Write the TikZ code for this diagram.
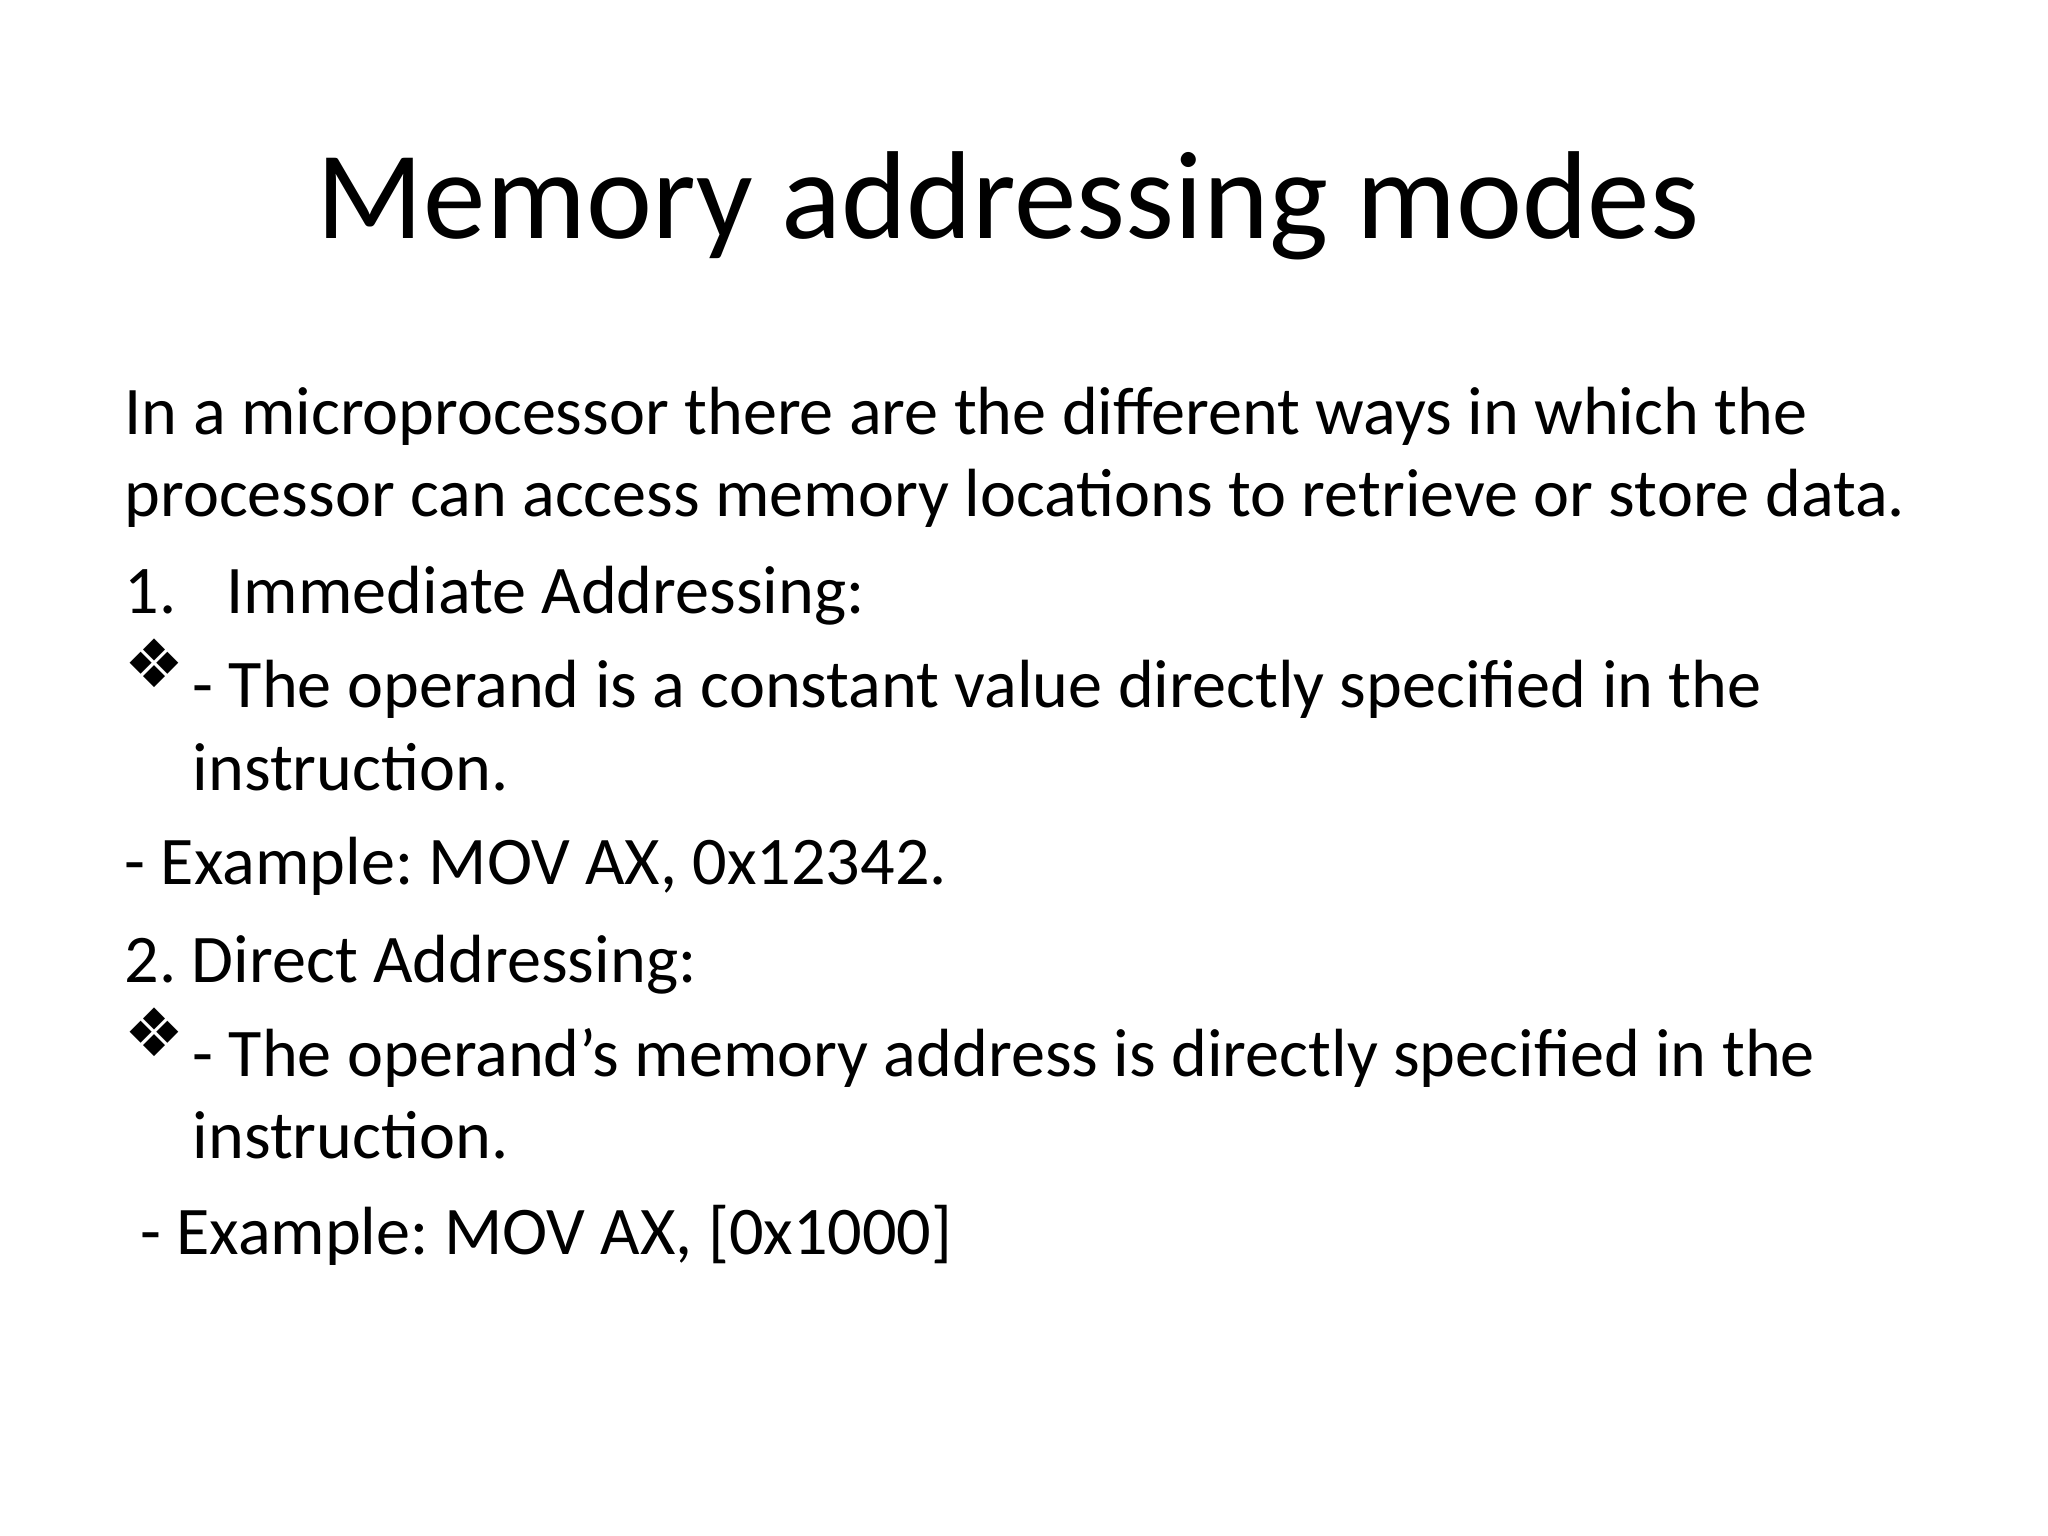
\documentclass[tikz,border=0pt]{standalone}
\usepackage{fontspec}
\setmainfont{Carlito}[Ligatures=Common]
\newfontfamily\symfont{DejaVu Sans}
\frenchspacing
\begin{document}
\begin{tikzpicture}[x=1cm,y=1cm,
  body/.style={anchor=base west,inner sep=0pt,font=\fontsize{19.4pt}{24pt}\selectfont},
  bul/.style={anchor=base west,inner sep=0pt,font=\symfont\fontsize{19pt}{20pt}\selectfont}]
\useasboundingbox (0,0) rectangle (20.48,-15.36);
\node[anchor=base,inner sep=0pt,font=\fontsize{35.6pt}{40pt}\selectfont] (title) at (10.08,-2.39) {Memory addressing modes};
\node[body] (l1) at (1.24,-4.35) {In a microprocessor there are the different ways in which the};
\node[body] (l2) at (1.24,-5.17) {processor can access memory locations to retrieve or store data.};
\node[body] (n1) at (1.24,-6.14) {1.};
\node[body] (h1) at (2.26,-6.14) {Immediate Addressing:};
\node[bul] (b1) at (1.24,-6.88) {❖};
\node[body] (t1) at (1.92,-7.08) {- The operand is a constant value directly specified in the};
\node[body] (t1b) at (1.92,-7.90) {instruction.};
\node[body] (e1) at (1.24,-8.85) {- Example: MOV AX, 0x12342.};
\node[body] (h2) at (1.24,-9.82) {2. Direct Addressing:};
\node[bul] (b2) at (1.24,-10.56) {❖};
\node[body] (t2) at (1.92,-10.76) {- The operand's memory address is directly specified in the};
\node[body] (t2b) at (1.92,-11.58) {instruction.};
\node[body] (e2) at (1.24,-12.54) {\ - Example: MOV AX, [0x1000]};
\end{tikzpicture}
\end{document}
